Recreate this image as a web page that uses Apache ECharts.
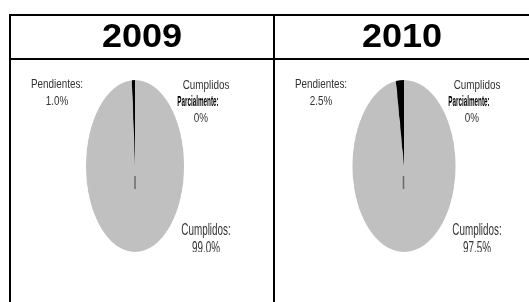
<!DOCTYPE html>
<html>
<head>
<meta charset="utf-8">
<script src="https://cdn.jsdelivr.net/npm/echarts@6/dist/echarts.min.js"></script>
<style>
html,body{margin:0;padding:0;background:#fff;}
#wrap{position:relative;width:529px;height:302px;overflow:hidden;}
.pie{position:absolute;top:0;width:200px;height:302px;transform-origin:100px 0;}
#main{position:absolute;left:0;top:0;width:529px;height:302px;}
</style>
</head>
<body>
<div id="wrap">
  <div id="pie0" class="pie"></div>
  <div id="pie1" class="pie"></div>
  <div id="main"></div>
</div>
<script>
// ---- data ----
var years = ['2009', '2010'];
var categories = ['Cumplidos', 'Cumplidos Parcialmente', 'Pendientes'];
var values2009 = [99.0, 0, 1.0];
var values2010 = [97.5, 0, 2.5];
var sliceColors = ['#C0C0C0', '#808080', '#000000'];

var allValues = [values2009, values2010];

// ---- layout (pixels) ----
var pieCx = [135, 403.5];
var pieRx = [49, 51.5];
var pieCy = 166, pieR = 86;
var titleCx = [142, 402];
var pendCx = [57, 321];
var parcCx = [206, 477];
var cumpCx = [206, 477];

function fmt(v) { return v === 0 ? '0%' : v.toFixed(1) + '%'; }

// pies (circular pie squeezed horizontally into an ellipse)
for (var k = 0; k < 2; k++) {
  var el = document.getElementById('pie' + k);
  el.style.left = (pieCx[k] - 100) + 'px';
  el.style.transform = 'scaleX(' + (pieRx[k] / pieR) + ')';
  var c = echarts.init(el, null, {renderer: 'canvas'});
  c.setOption({
    animation: false,
    series: [{
      type: 'pie',
      center: [100, pieCy],
      radius: [0, pieR],
      startAngle: 90,
      clockwise: true,
      label: {show: false},
      labelLine: {show: false},
      emphasis: {disabled: true},
      itemStyle: {borderWidth: 0},
      data: categories.map(function (n, i) {
        return {name: n, value: allValues[k][i], itemStyle: {color: sliceColors[i]}};
      })
    }]
  });
}

// overlay: table, titles, labels
var main = echarts.init(document.getElementById('main'), null, {renderer: 'canvas'});
var font = '"Liberation Sans", Arial, sans-serif';
var g = [];
function txt(s, x, y, opts) {
  opts = opts || {};
  g.push({type: 'text', x: x, y: y, scaleX: opts.sx || 0.76, scaleY: opts.sy || 1, z: opts.z || 3,
    style: {text: s, font: (opts.bold ? 'bold ' : '') + (opts.size || 13) + 'px ' + font,
      fill: opts.fill || '#333', align: 'center', verticalAlign: 'middle'}});
}
// white covers below the clip line
g.push({type: 'rect', shape: {x: 12, y: 252, width: 261, height: 60}, style: {fill: '#fff'}, z: 5});
g.push({type: 'rect', shape: {x: 276, y: 252, width: 260, height: 60}, style: {fill: '#fff'}, z: 5});
// table lines
var lineStyle = {stroke: '#000', lineWidth: 2};
g.push({type: 'line', shape: {x1: 9, y1: 15, x2: 540, y2: 15}, style: lineStyle, z: 10});
g.push({type: 'line', shape: {x1: 9, y1: 59, x2: 540, y2: 59}, style: lineStyle, z: 10});
g.push({type: 'line', shape: {x1: 10, y1: 14, x2: 10, y2: 310}, style: lineStyle, z: 10});
g.push({type: 'line', shape: {x1: 274, y1: 14, x2: 274, y2: 310}, style: lineStyle, z: 10});

for (var k = 0; k < 2; k++) {
  var v = allValues[k];
  txt(years[k], titleCx[k], 38, {size: 34, bold: true, fill: '#000', sx: 1.06, z: 10});
  // center tick
  g.push({type: 'line', shape: {x1: pieCx[k], y1: 176, x2: pieCx[k], y2: 189}, style: {stroke: '#6a6a6a', lineWidth: 1.5}, z: 3});
  // Pendientes
  txt(categories[2] + ':', pendCx[k], 84);
  txt(fmt(v[2]), pendCx[k], 101);
  // Cumplidos Parcialmente
  var parts = categories[1].split(' ');
  txt(parts[0], parcCx[k], 85);
  txt(parts[1] + ':', parcCx[k] - 8, 102, {bold: true, fill: '#000', sx: 0.42, size: 15});
  txt(fmt(v[1]), parcCx[k] - 5, 118);
  // Cumplidos
  txt(categories[0] + ':', cumpCx[k], 231, {sy: 1.2});
  txt(fmt(v[0]), cumpCx[k], 249, {sy: 1.2});
}
main.setOption({animation: false, backgroundColor: 'transparent', graphic: g});
</script>
</body>
</html>
